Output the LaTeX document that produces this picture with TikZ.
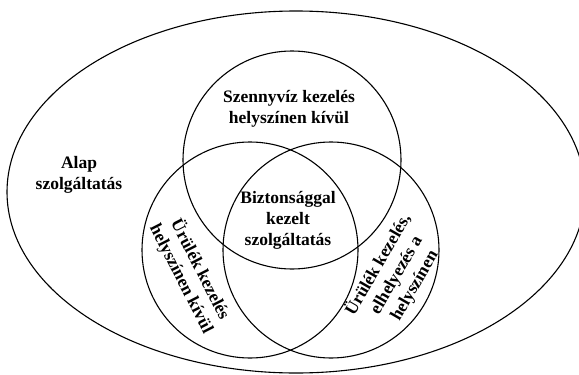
\documentclass[tikz,border=0pt]{standalone}
\usepackage{fontspec}
\setmainfont{Liberation Serif}
\begin{document}
\begin{tikzpicture}[x=1pt,y=-1pt,
  ring/.style={draw=black,line width=1.1pt},
  lbl/.style={font=\bfseries\fontsize{17.5}{21}\selectfont,align=center,inner sep=0pt}]
\useasboundingbox (0,0) rectangle (579,375);
\clip (0,0) rectangle (579,375);

% outer set and the three service circles
\coordinate (base) at (296,192);
\coordinate (ctop) at (292,160);
\coordinate (cleft) at (250,250);
\coordinate (cright) at (331,250);
\draw[ring] (base) ellipse [x radius=289, y radius=181];
\draw[ring] (ctop) circle [radius=109];
\draw[ring] (cleft) circle [radius=108];
\draw[ring] (cright) circle [radius=108];

% labels
\node[lbl] (alap) at (79,175) {Alap\\szolgáltatás};
\node[lbl] (szenny) at (289,109) {Szennyvíz kezelés\\helyszínen kívül};
\node[lbl] (bizt) at (288,220) {Biztonsággal\\kezelt\\szolgáltatás};
\node[lbl,rotate=-63] (urleft) at (191,274) {Ürülék kezelés\\helyszínen kívül};
\node[lbl,rotate=60] (urright) at (396,275) {Ürülék kezelés,\\elhelyezés a\\helyszínen};
\end{tikzpicture}
\end{document}
